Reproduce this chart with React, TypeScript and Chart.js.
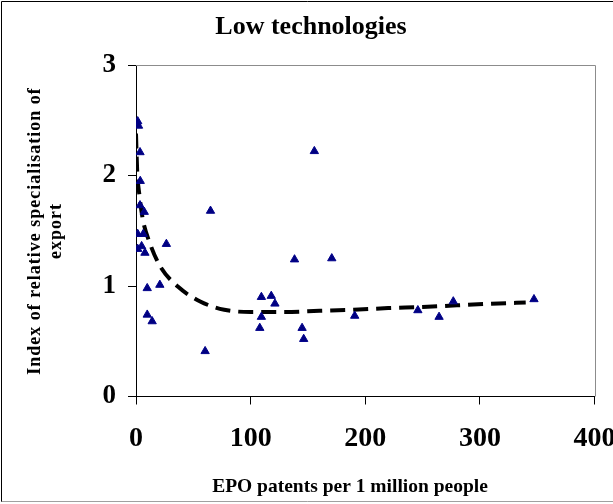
import React, { useEffect, useRef } from "react";
import { Chart, registerables } from "chart.js";

Chart.register(...registerables);

const chartTitle = "Low technologies";
const xAxisTitle = "EPO patents per 1 million people";
const yAxisTitleLines = ["Index of relative specialisation of", "export"];

const xTickValues = [0, 100, 200, 300, 400];
const yTickValues = [0, 1, 2, 3];

// Observed countries: EPO patents per 1 million people vs. index of relative specialisation
const patentsX = [1.5, 2.2, 3.5, 3.7, 3.5, 7.2, 65, 1.5, 6.3, 1.5, 4.9, 7.8, 26.5, 9.8, 20.8, 9.8, 14.1, 60.3, 109.4, 109.4, 108, 118, 121.2, 138.3, 155.6, 170.8, 144.9, 146.3, 190.8, 245.9, 264.4, 276.8, 347.2];
const exportIndex = [2.49, 2.45, 2.21, 1.95, 1.73, 1.67, 1.68, 1.47, 1.47, 1.335, 1.36, 1.3, 1.38, 0.98, 1.01, 0.74, 0.68, 0.41, 0.9, 0.72, 0.62, 0.91, 0.84, 1.24, 2.22, 1.25, 0.62, 0.52, 0.73, 0.78, 0.72, 0.86, 0.88];

// Trend line
const trendX = [0, 1, 3, 6, 12, 21, 37, 56, 77, 100, 130, 160, 190, 220, 250, 280, 310, 340];
const trendY = [2.38, 2.05, 1.82, 1.6, 1.39, 1.18, 0.99, 0.86, 0.785, 0.765, 0.765, 0.775, 0.785, 0.8, 0.81, 0.825, 0.84, 0.85];

const FONT = "'Liberation Serif', 'Times New Roman', serif";

export default function App() {
  const ref = useRef<HTMLCanvasElement | null>(null);

  useEffect(() => {
    if (!ref.current) return;
    const decor = {
      id: "decor",
      afterDraw(chart: any) {
        const ctx = chart.ctx as CanvasRenderingContext2D;
        const a = chart.chartArea;
        ctx.save();
        // plot-area gray border (top, right)
        ctx.strokeStyle = "#8c8c8c";
        ctx.lineWidth = 1;
        ctx.beginPath();
        ctx.moveTo(a.left, Math.round(a.top) + 0.5);
        ctx.lineTo(Math.round(a.right) + 0.5, Math.round(a.top) + 0.5);
        ctx.lineTo(Math.round(a.right) + 0.5, a.bottom);
        ctx.stroke();
        // outer frame
        ctx.strokeStyle = "#000";
        ctx.beginPath();
        ctx.moveTo(1.5, 502);
        ctx.lineTo(1.5, 1.5);
        ctx.lineTo(613, 1.5);
        ctx.stroke();
        ctx.strokeStyle = "#a0a0a0";
        ctx.beginPath();
        ctx.moveTo(1.5, 501.5);
        ctx.lineTo(613, 501.5);
        ctx.stroke();
        // titles
        ctx.fillStyle = "#000";
        ctx.textAlign = "center";
        ctx.textBaseline = "middle";
        ctx.font = `bold 26px ${FONT}`;
        ctx.fillText(chartTitle, 311, 27);
        ctx.font = `bold 19.5px ${FONT}`;
        ctx.fillText(xAxisTitle, 350, 487);
        ctx.font = `bold 18px ${FONT}`;
        (ctx as any).letterSpacing = "1px";
        ctx.translate(0, 231);
        ctx.rotate(-Math.PI / 2);
        ctx.fillText(yAxisTitleLines[0], 0, 35);
        ctx.fillText(yAxisTitleLines[1], 0, 56);
        ctx.restore();
      },
    };

    const chart = new Chart(ref.current, {
      type: "scatter",
      data: {
        datasets: [
          {
            type: "scatter",
            data: patentsX.map((x, i) => ({ x, y: exportIndex[i] })),
            pointStyle: "triangle",
            pointRadius: 4.8,
            backgroundColor: "#000080",
            borderColor: "#00008b",
            borderWidth: 1,
          },
          {
            type: "line",
            data: trendX.map((x, i) => ({ x, y: trendY[i] })),
            borderColor: "#000",
            borderWidth: 4,
            borderDash: [15, 8],
            pointRadius: 0,
            fill: false,
            tension: 0.4,
            cubicInterpolationMode: "monotone",
            showLine: true,
          } as any,
        ],
      },
      options: {
        responsive: false,
        animation: false,
        events: [],
        layout: { padding: { top: 65, right: 18.5, left: 0, bottom: 0 } },
        plugins: {
          legend: { display: false },
          title: { display: false },
          tooltip: { enabled: false },
        },
        scales: {
          x: {
            type: "linear",
            min: 0,
            max: 400,
            afterBuildTicks: (s: any) => {
              s.ticks = xTickValues.map((v) => ({ value: v }));
            },
            afterFit: (s: any) => {
              s.height = 107.5;
              s.paddingLeft = 0;
              s.paddingRight = 0;
            },
            ticks: {
              color: "#000",
              font: { family: FONT, size: 28, weight: "bold" },
              padding: 17,
              maxRotation: 0,
            },
            grid: {
              display: true,
              drawOnChartArea: false,
              drawTicks: true,
              tickLength: 8,
              color: "#000",
            },
            border: { display: true, color: "#000", width: 1 },
          },
          y: {
            type: "linear",
            min: 0,
            max: 3,
            afterBuildTicks: (s: any) => {
              s.ticks = yTickValues.map((v) => ({ value: v }));
            },
            afterFit: (s: any) => {
              s.width = 136;
              s.paddingTop = 0;
              s.paddingBottom = 0;
            },
            ticks: {
              color: "#000",
              font: { family: FONT, size: 27, weight: "bold" },
              padding: 12,
            },
            grid: {
              display: true,
              drawOnChartArea: false,
              drawTicks: true,
              tickLength: 8,
              color: "#000",
            },
            border: { display: true, color: "#000", width: 1 },
          },
        },
      } as any,
      plugins: [decor],
    });
    return () => chart.destroy();
  }, []);

  return (
    <div style={{ position: "fixed", left: 0, top: 0, width: 613, height: 504, background: "#fff" }}>
      <canvas ref={ref} width={613} height={504} style={{ display: "block" }} />
    </div>
  );
}
